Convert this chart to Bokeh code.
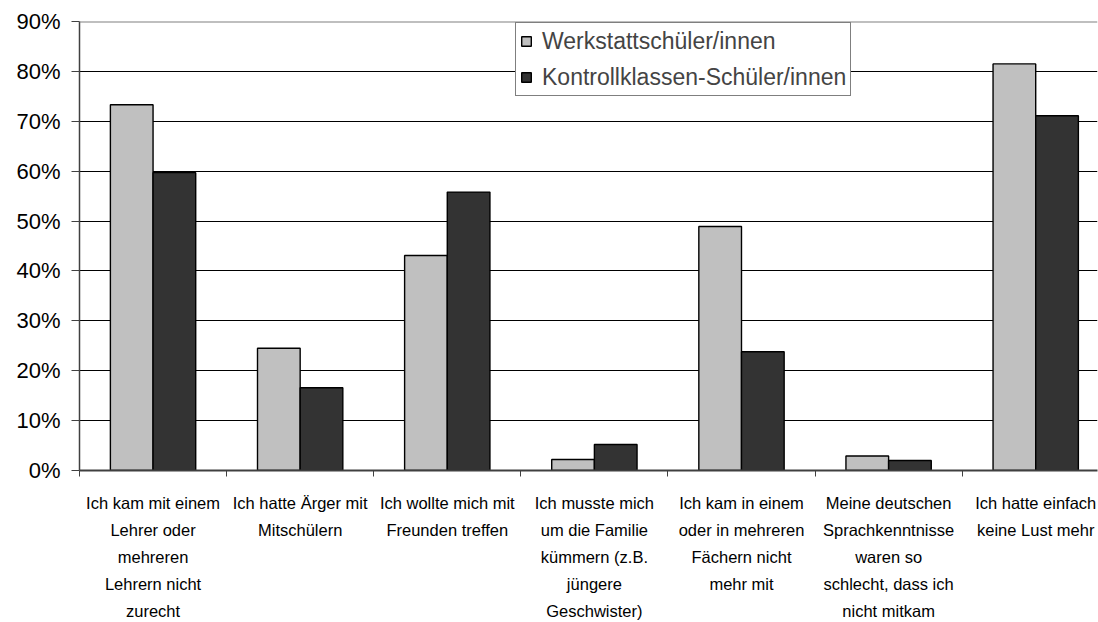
from bokeh.plotting import figure
from bokeh.models import Range1d, FixedTicker, NumeralTickFormatter, Span, ColumnDataSource, Legend
from bokeh.embed import file_html
from bokeh.resources import INLINE

categories = [
    "Ich kam mit einem\nLehrer oder\nmehreren\nLehrern nicht\nzurecht",
    "Ich hatte Ärger mit\nMitschülern",
    "Ich wollte mich mit\nFreunden treffen",
    "Ich musste mich\num die Familie\nkümmern (z.B.\njüngere\nGeschwister)",
    "Ich kam in einem\noder in mehreren\nFächern nicht\nmehr mit",
    "Meine deutschen\nSprachkenntnisse\nwaren so\nschlecht, dass ich\nnicht mitkam",
    "Ich hatte einfach\nkeine Lust mehr",
]
series_names = ["Werkstattschüler/innen", "Kontrollklassen-Schüler/innen"]
werkstatt = [0.733, 0.245, 0.431, 0.022, 0.489, 0.029, 0.815]
kontroll = [0.597, 0.166, 0.558, 0.052, 0.238, 0.020, 0.711]
y_ticks = [0.0, 0.1, 0.2, 0.3, 0.4, 0.5, 0.6, 0.7, 0.8, 0.9]

n = len(categories)
centers = [i + 0.5 for i in range(n)]
bw = 0.29

src = ColumnDataSource(dict(
    xw=[c - bw / 2 for c in centers],
    xk=[c + bw / 2 for c in centers],
    w=werkstatt, k=kontroll,
))

p = figure(width=1098, height=622, output_backend="svg", toolbar_location=None,
           x_range=Range1d(0, 6.92), y_range=Range1d(0, 0.9),
           min_border_left=79, min_border_top=21, min_border_bottom=152, min_border_right=1)
p.outline_line_color = None
p.background_fill_color = "white"

r1 = p.vbar(x="xw", top="w", width=bw, source=src, fill_color="#C0C0C0",
            line_color="#000000", line_width=1.4)
r2 = p.vbar(x="xk", top="k", width=bw, source=src, fill_color="#333333",
            line_color="#000000", line_width=1.4)

p.add_layout(Span(location=0.9, dimension="width", line_color="#808080", line_width=2))

# y axis
ya = p.yaxis[0]
ya.ticker = FixedTicker(ticks=y_ticks, minor_ticks=[])
ya.formatter = NumeralTickFormatter(format="0%")
ya.major_label_text_font = "Liberation Sans"
ya.major_label_text_font_size = "22px"
ya.major_label_text_color = "#000000"
ya.axis_line_color = "#404040"
ya.axis_line_width = 1.5
ya.major_tick_out = 8
ya.major_tick_in = 0
ya.major_tick_line_color = "#404040"
ya.major_label_standoff = 11

# x axis
xa = p.xaxis[0]
xa.ticker = FixedTicker(ticks=centers, minor_ticks=list(range(n + 1)))
xa.major_label_overrides = {c: lab for c, lab in zip(centers, categories)}
xa.major_tick_line_color = None
xa.major_tick_out = 0
xa.major_tick_in = 0
xa.minor_tick_out = 6
xa.minor_tick_in = 0
xa.minor_tick_line_color = "#404040"
xa.axis_line_color = "#404040"
xa.axis_line_width = 2
xa.major_label_standoff = 17
xa.major_label_text_font = "Liberation Sans"
xa.major_label_text_font_size = "16.5px"
xa.major_label_text_line_height = 1.5
xa.major_label_text_color = "#000000"

p.xgrid.visible = False
p.ygrid.ticker = FixedTicker(ticks=[0.1, 0.2, 0.3, 0.4, 0.5, 0.6, 0.7, 0.8])
p.ygrid.grid_line_color = "#000000"
p.ygrid.grid_line_width = 1

legend = Legend(items=[(series_names[0], [r1]), (series_names[1], [r2])],
                location=(436, 374))
legend.label_text_font = "Liberation Sans"
legend.label_text_font_size = "23px"
legend.glyph_width = 12
legend.glyph_height = 12
legend.label_height = 28
legend.spacing = 8
legend.padding = 4
legend.margin = 0
legend.label_standoff = 10
legend.border_line_color = "#000000"
legend.border_line_width = 1
legend.background_fill_alpha = 1
p.add_layout(legend, "center")

open("out.html", "w").write(file_html(p, INLINE))
